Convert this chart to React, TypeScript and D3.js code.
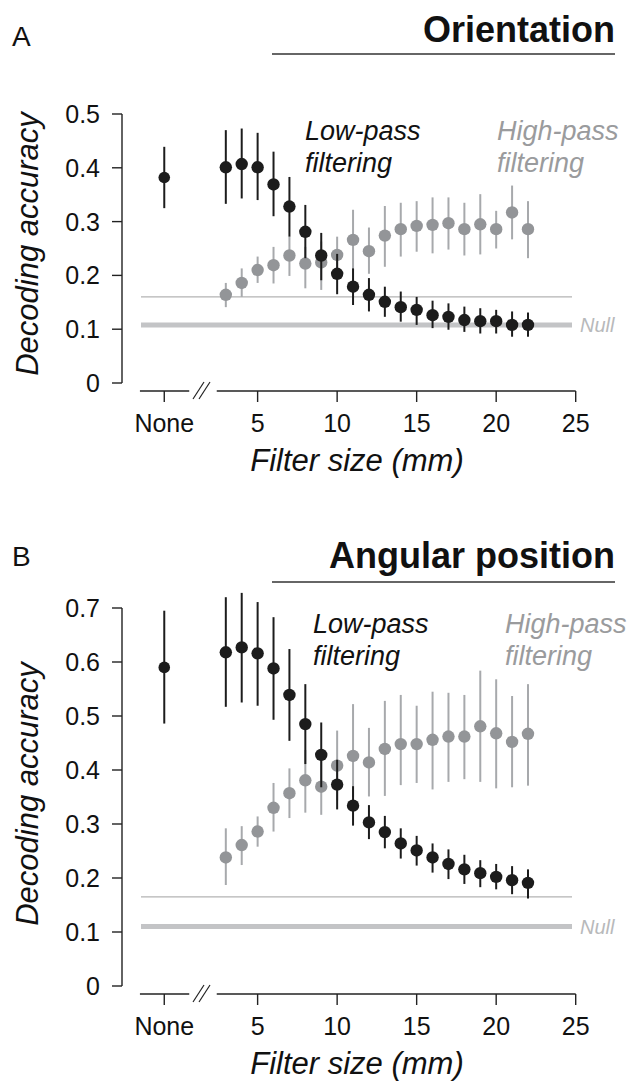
import React from "react";
import * as d3 from "d3";

// ---------- data ----------
const filterSizes = [3, 4, 5, 6, 7, 8, 9, 10, 11, 12, 13, 14, 15, 16, 17, 18, 19, 20, 21, 22];
const xTickValues = [5, 10, 15, 20, 25];
const noneLabel = "None";

// Orientation (panel A)
const orientNone = { mean: 0.382, lo: 0.325, hi: 0.439 };
const orientLowMean = [0.401, 0.407, 0.401, 0.369, 0.328, 0.281, 0.237, 0.203, 0.179, 0.164, 0.151, 0.141, 0.136, 0.126, 0.123, 0.117, 0.115, 0.115, 0.108, 0.108];
const orientLowLo = [0.333, 0.343, 0.340, 0.310, 0.272, 0.232, 0.191, 0.165, 0.145, 0.133, 0.123, 0.114, 0.108, 0.102, 0.099, 0.095, 0.092, 0.092, 0.086, 0.086];
const orientLowHi = [0.470, 0.473, 0.465, 0.430, 0.383, 0.331, 0.279, 0.240, 0.213, 0.195, 0.179, 0.170, 0.160, 0.153, 0.148, 0.142, 0.139, 0.136, 0.133, 0.131];
const orientHighMean = [0.164, 0.186, 0.210, 0.219, 0.237, 0.222, 0.224, 0.238, 0.266, 0.245, 0.274, 0.286, 0.292, 0.294, 0.297, 0.286, 0.295, 0.286, 0.317, 0.286];
const orientHighLo = [0.141, 0.160, 0.186, 0.185, 0.199, 0.176, 0.173, 0.207, 0.210, 0.203, 0.216, 0.235, 0.244, 0.241, 0.248, 0.237, 0.239, 0.250, 0.267, 0.232];
const orientHighHi = [0.186, 0.213, 0.235, 0.253, 0.272, 0.253, 0.263, 0.272, 0.322, 0.289, 0.329, 0.335, 0.338, 0.345, 0.345, 0.335, 0.351, 0.320, 0.367, 0.338];
const orientYTicks = [0, 0.1, 0.2, 0.3, 0.4, 0.5];
const orientRef = 0.16;
const orientNull = 0.108;

// Angular position (panel B)
const angNone = { mean: 0.590, lo: 0.486, hi: 0.695 };
const angLowMean = [0.618, 0.627, 0.616, 0.588, 0.539, 0.485, 0.428, 0.373, 0.334, 0.303, 0.285, 0.264, 0.251, 0.238, 0.226, 0.216, 0.209, 0.202, 0.196, 0.191];
const angLowLo = [0.517, 0.525, 0.519, 0.493, 0.454, 0.411, 0.368, 0.327, 0.297, 0.272, 0.255, 0.236, 0.223, 0.210, 0.198, 0.189, 0.183, 0.179, 0.170, 0.162];
const angLowHi = [0.720, 0.728, 0.711, 0.683, 0.624, 0.559, 0.488, 0.419, 0.370, 0.335, 0.315, 0.292, 0.278, 0.264, 0.253, 0.243, 0.233, 0.226, 0.222, 0.216];
const angHighMean = [0.238, 0.261, 0.286, 0.330, 0.357, 0.381, 0.369, 0.408, 0.426, 0.414, 0.439, 0.448, 0.448, 0.456, 0.462, 0.462, 0.481, 0.468, 0.452, 0.467];
const angHighLo = [0.187, 0.224, 0.258, 0.286, 0.311, 0.321, 0.317, 0.344, 0.350, 0.351, 0.352, 0.372, 0.376, 0.364, 0.378, 0.383, 0.378, 0.366, 0.368, 0.371];
const angHighHi = [0.292, 0.296, 0.314, 0.376, 0.403, 0.437, 0.428, 0.473, 0.522, 0.478, 0.528, 0.539, 0.519, 0.545, 0.543, 0.539, 0.584, 0.568, 0.537, 0.559];
const angYTicks = [0, 0.1, 0.2, 0.3, 0.4, 0.5, 0.6, 0.7];
const angRef = 0.165;
const angNull = 0.11;

// ---------- style / layout ----------
const FONT = "'Liberation Sans', Arial, Helvetica, sans-serif";
const BLACK = "#1c1c1c";
const GRAY_DOT = "#939598";
const GRAY_BAR = "#a7a9ac";
const NULL_COL = "#c3c4c6";
const REF_COL = "#b3b3b3";

const W = 630;
const H = 1086;
const axisX = 122;
const NONE_POS = -0.87; // position of "None" in filter-size units
const xScale = d3.scaleLinear().domain([0, 25]).range([178.1, 575.7]);
const lineStart = 141;
const lineEnd = 572;

type PanelProps = {
  letter: string;
  title: string;
  titleBaseline: number;
  letterBaseline: number;
  ruleY: number;
  top: number;
  bottom: number;
  ymax: number;
  yTicks: number[];
  none: { mean: number; lo: number; hi: number };
  lowMean: number[];
  lowLo: number[];
  lowHi: number[];
  highMean: number[];
  highLo: number[];
  highHi: number[];
  refVal: number;
  nullVal: number;
  annBaseline: number;
  lowX: number;
  highX: number;
  ylabelY: number;
};

function Panel(p: PanelProps) {
  const y = d3.scaleLinear().domain([0, p.ymax]).range([p.bottom, p.top]);
  const axisY = p.bottom + 8;
  const fmt = (v: number) => (v === 0 ? "0" : d3.format(".1f")(v));
  const r = 6.2;
  return (
    <g>
      {/* panel letter + title */}
      <text x={12} y={p.letterBaseline} fontFamily={FONT} fontSize={28} fill="#111">{p.letter}</text>
      <text x={615} y={p.titleBaseline} textAnchor="end" fontFamily={FONT} fontSize={36} fontWeight="bold" fill="#111">{p.title}</text>
      <line x1={272} x2={615} y1={p.ruleY} y2={p.ruleY} stroke="#333" strokeWidth={1.5} />

      {/* y axis */}
      <line x1={axisX} x2={axisX} y1={y(p.ymax)} y2={y(0)} stroke="#222" strokeWidth={1.4} />
      {p.yTicks.map((t) => (
        <g key={t}>
          <line x1={axisX - 10} x2={axisX} y1={y(t)} y2={y(t)} stroke="#222" strokeWidth={1.4} />
          <text x={100} y={y(t)} dy="0.36em" textAnchor="end" fontFamily={FONT} fontSize={25} fill="#111">{fmt(t)}</text>
        </g>
      ))}
      <text transform={`translate(38,${p.ylabelY}) rotate(-90)`} textAnchor="middle" fontFamily={FONT} fontStyle="italic" fontSize={31} fill="#111">Decoding accuracy</text>

      {/* x axis with break */}
      <line x1={xScale(-2.4)} x2={xScale(0.7)} y1={axisY} y2={axisY} stroke="#222" strokeWidth={1.4} />
      <line x1={xScale(2.43)} x2={xScale(25)} y1={axisY} y2={axisY} stroke="#222" strokeWidth={1.4} />
      <line x1={193} y1={axisY + 8} x2={204} y2={axisY - 9} stroke="#222" strokeWidth={1.2} />
      <line x1={199} y1={axisY + 8} x2={210} y2={axisY - 9} stroke="#222" strokeWidth={1.2} />
      <line x1={xScale(NONE_POS)} x2={xScale(NONE_POS)} y1={axisY} y2={axisY + 11} stroke="#222" strokeWidth={1.4} />
      <text x={xScale(NONE_POS)} y={axisY + 41} textAnchor="middle" fontFamily={FONT} fontSize={25} fill="#111">{noneLabel}</text>
      {xTickValues.map((t) => (
        <g key={t}>
          <line x1={xScale(t)} x2={xScale(t)} y1={axisY} y2={axisY + 11} stroke="#222" strokeWidth={1.4} />
          <text x={xScale(t)} y={axisY + 41} textAnchor="middle" fontFamily={FONT} fontSize={25} fill="#111">{t}</text>
        </g>
      ))}
      <text x={357} y={axisY + 80} textAnchor="middle" fontFamily={FONT} fontStyle="italic" fontSize={31} fill="#111">Filter size (mm)</text>

      {/* reference lines */}
      <line x1={lineStart} x2={lineEnd} y1={y(p.refVal)} y2={y(p.refVal)} stroke={REF_COL} strokeWidth={1.2} />
      <line x1={lineStart} x2={lineEnd} y1={y(p.nullVal)} y2={y(p.nullVal)} stroke={NULL_COL} strokeWidth={5} />
      <text x={580} y={y(p.nullVal)} dy="0.36em" fontFamily={FONT} fontStyle="italic" fontSize={20} fill="#b8b9bb">Null</text>

      {/* high-pass */}
      {filterSizes.map((f, i) => (
        <g key={"h" + f}>
          <line x1={xScale(f)} x2={xScale(f)} y1={y(p.highLo[i])} y2={y(p.highHi[i])} stroke={GRAY_BAR} strokeWidth={2} />
          <circle cx={xScale(f)} cy={y(p.highMean[i])} r={r} fill={GRAY_DOT} />
        </g>
      ))}
      {/* low-pass */}
      {filterSizes.map((f, i) => (
        <g key={"l" + f}>
          <line x1={xScale(f)} x2={xScale(f)} y1={y(p.lowLo[i])} y2={y(p.lowHi[i])} stroke={BLACK} strokeWidth={2} />
          <circle cx={xScale(f)} cy={y(p.lowMean[i])} r={r} fill={BLACK} />
        </g>
      ))}
      {/* none */}
      <line x1={xScale(NONE_POS)} x2={xScale(NONE_POS)} y1={y(p.none.lo)} y2={y(p.none.hi)} stroke={BLACK} strokeWidth={2} />
      <circle cx={xScale(NONE_POS)} cy={y(p.none.mean)} r={5.8} fill={BLACK} />

      {/* annotations */}
      <text x={p.lowX} y={p.annBaseline} fontFamily={FONT} fontStyle="italic" fontSize={27} fill="#111">
        <tspan x={p.lowX}>Low-pass</tspan>
        <tspan x={p.lowX} dy={32}>filtering</tspan>
      </text>
      <text x={p.highX} y={p.annBaseline} fontFamily={FONT} fontStyle="italic" fontSize={27} fill="#9a9b9d">
        <tspan x={p.highX}>High-pass</tspan>
        <tspan x={p.highX} dy={32}>filtering</tspan>
      </text>
    </g>
  );
}

export default function App() {
  return (
    <svg width={W} height={H} style={{ position: "absolute", left: 0, top: 0, background: "#fff" }}>
      <Panel
        letter="A" title="Orientation" titleBaseline={42} letterBaseline={46} ruleY={54}
        top={114} bottom={383} ymax={0.5} yTicks={orientYTicks}
        none={orientNone}
        lowMean={orientLowMean} lowLo={orientLowLo} lowHi={orientLowHi}
        highMean={orientHighMean} highLo={orientHighLo} highHi={orientHighHi}
        refVal={orientRef} nullVal={orientNull}
        annBaseline={140} lowX={305} highX={497} ylabelY={244}
      />
      <Panel
        letter="B" title="Angular position" titleBaseline={568} letterBaseline={566} ruleY={582}
        top={608} bottom={986} ymax={0.7} yTicks={angYTicks}
        none={angNone}
        lowMean={angLowMean} lowLo={angLowLo} lowHi={angLowHi}
        highMean={angHighMean} highLo={angHighLo} highHi={angHighHi}
        refVal={angRef} nullVal={angNull}
        annBaseline={633} lowX={313} highX={505} ylabelY={794}
      />
    </svg>
  );
}
